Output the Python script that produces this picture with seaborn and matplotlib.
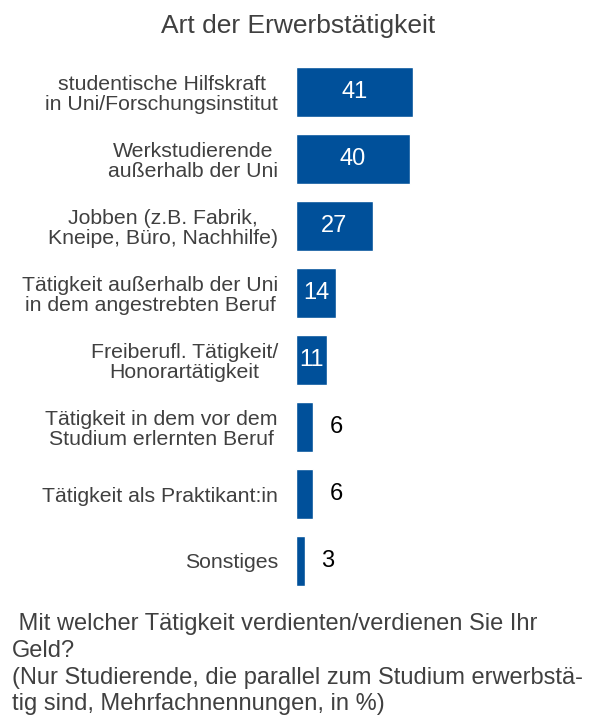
import matplotlib
matplotlib.use("Agg")
import matplotlib.pyplot as plt
import seaborn as sns
import pandas as pd

categories = [
    "studentische Hilfskraft\nin Uni/Forschungsinstitut",
    "Werkstudierende\naußerhalb der Uni",
    "Jobben (z.B. Fabrik,\nKneipe, Büro, Nachhilfe)",
    "Tätigkeit außerhalb der Uni\nin dem angestrebten Beruf",
    "Freiberufl. Tätigkeit/\nHonorartätigkeit",
    "Tätigkeit in dem vor dem\nStudium erlernten Beruf",
    "Tätigkeit als Praktikant:in",
    "Sonstiges",
]
values = [41, 40, 27, 14, 11, 6, 6, 3]

title = "Art der Erwerbstätigkeit"
footnote = (" Mit welcher Tätigkeit verdienten/verdienen Sie Ihr\nGeld?\n"
            "(Nur Studierende, die parallel zum Studium erwerbstä-\n"
            "tig sind, Mehrfachnennungen, in %)")

sns.set_style("white")
plt.rcParams["font.family"] = ["Liberation Sans", "DejaVu Sans"]

bar_color = "#00509A"
text_gray = "#404040"

df = pd.DataFrame({"Kategorie": categories, "Wert": values})

W, H = 593, 717
fig = plt.figure(figsize=(W / 100, H / 100), dpi=100)
ax = fig.add_axes([296 / W, (H - 594.5) / H, 285 / W, 536 / H])

sns.barplot(ax=ax, data=df, x="Wert", y="Kategorie", color=bar_color,
            orient="h", width=0.75, saturation=1)

ax.set_xlim(0, 100)
ax.set_ylim(7.5, -0.5)
ax.set_xlabel("")
ax.set_ylabel("")
ax.set_xticks([])
for s in ax.spines.values():
    s.set_visible(False)
ax.tick_params(axis="y", length=0, pad=13)
for lbl in ax.get_yticklabels():
    lbl.set_fontsize(15.3)
    lbl.set_color(text_gray)
    lbl.set_multialignment("center")
    lbl.set_linespacing(1.08)

# value labels: inside (white) for wide bars, outside (black) for narrow ones
for i, v in enumerate(values):
    if v >= 10:
        ax.text(v / 2, i, str(v), ha="center", va="center",
                color="white", fontsize=17)
    else:
        ax.text(v + 8, i, str(v), ha="center", va="center",
                color="black", fontsize=17)

fig.text(298 / W, 1 - 26 / H, title, ha="center", va="center",
         fontsize=19, color=text_gray)
fig.text(12 / W, 1 - 613 / H, footnote, ha="left", va="top",
         fontsize=17, color=text_gray, linespacing=1.28)

fig.savefig("out.png", dpi=100)
